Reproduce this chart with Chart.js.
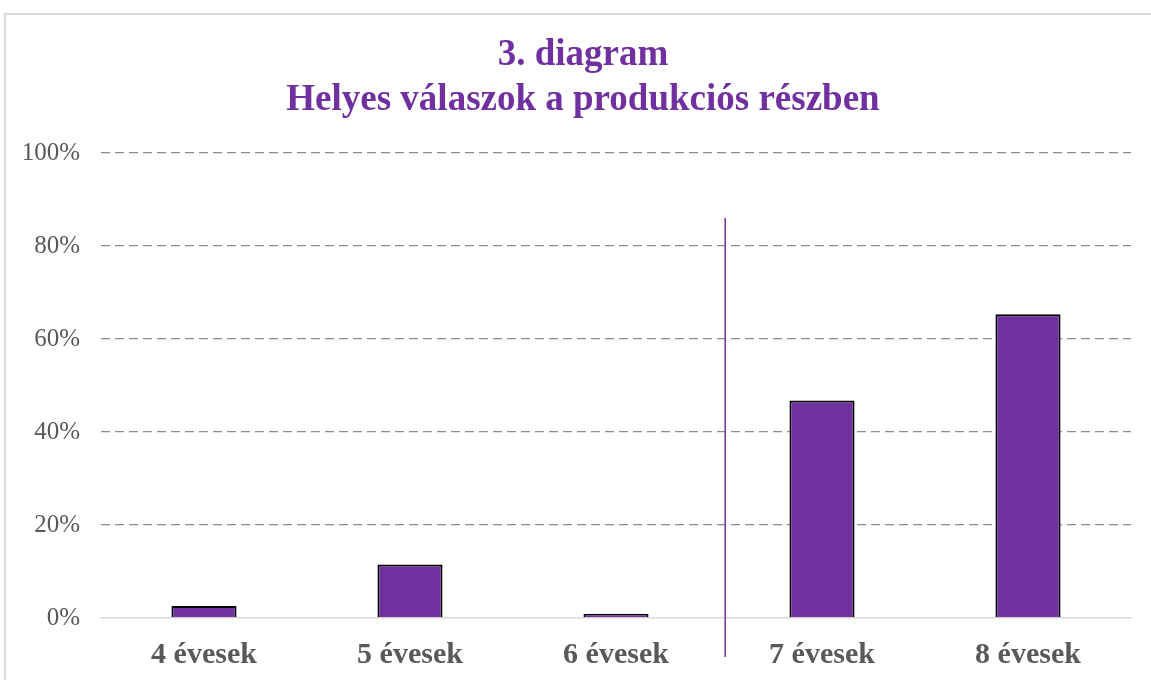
<!DOCTYPE html>
<html>
<head>
<meta charset="utf-8">
<script src="https://cdn.jsdelivr.net/npm/chart.js@4.4.1/dist/chart.umd.min.js"></script>
<style>
  html, body { margin: 0; padding: 0; background: #ffffff; }
  #wrap { position: relative; width: 1151px; height: 680px; }
</style>
</head>
<body>
<div id="wrap"><canvas id="c" width="1151" height="680"></canvas></div>
<script>
const categories = ["4 évesek", "5 évesek", "6 évesek", "7 évesek", "8 évesek"];
const correctShare = [2.6, 11.5, 0.9, 46.8, 65.3];
const yTicks = [0, 20, 40, 60, 80, 100];
const titleLines = ["3. diagram", "Helyes válaszok a produkciós részben"];
const dividerAfterIndex = 2;

const purple = "#7030A0";
const serif = "'Liberation Serif', 'Times New Roman', serif";

const framePlugin = {
  id: "frame",
  beforeDraw(chart) {
    const ctx = chart.ctx;
    ctx.save();
    ctx.fillStyle = "#ffffff";
    ctx.fillRect(0, 0, chart.width, chart.height);
    ctx.strokeStyle = "#d9d9d9";
    ctx.lineWidth = 2;
    ctx.strokeRect(5, 14, chart.width + 20, chart.height + 20);
    ctx.restore();
  }
};

const titlePlugin = {
  id: "twoLineTitle",
  afterDraw(chart) {
    const ctx = chart.ctx;
    ctx.save();
    ctx.fillStyle = purple;
    ctx.font = "bold 37px " + serif;
    ctx.textAlign = "center";
    ctx.textBaseline = "alphabetic";
    const cx = 583;
    titleLines.forEach((line, i) => ctx.fillText(line, cx, 65 + i * 45));
    ctx.restore();
  }
};

const dividerPlugin = {
  id: "divider",
  afterDatasetsDraw(chart) {
    const x = chart.scales.x, y = chart.scales.y;
    const px = x.getPixelForValue(dividerAfterIndex + 0.53);
    const top = y.getPixelForValue(86);
    const bottom = y.getPixelForValue(-8.4);
    const ctx = chart.ctx;
    ctx.save();
    ctx.strokeStyle = purple;
    ctx.lineWidth = 1.5;
    ctx.beginPath();
    ctx.moveTo(px, top);
    ctx.lineTo(px, bottom);
    ctx.stroke();
    ctx.restore();
  }
};

new Chart(document.getElementById("c"), {
  type: "bar",
  data: {
    labels: categories,
    datasets: [{
      data: correctShare,
      backgroundColor: purple,
      borderColor: "#000000",
      borderWidth: 2,
      borderSkipped: "bottom",
      categoryPercentage: 1.0,
      barPercentage: 0.316
    }]
  },
  options: {
    responsive: false,
    animation: false,
    devicePixelRatio: 1,
    layout: { padding: { left: 0, right: 20, top: 153, bottom: 0 } },
    plugins: {
      legend: { display: false },
      tooltip: { enabled: false },
      title: { display: false }
    },
    scales: {
      x: {
        grid: { display: false, drawTicks: false },
        border: { display: true, color: "#d9d9d9", width: 1.5 },
        ticks: {
          color: "#595959",
          font: { family: serif, size: 30, weight: "bold" },
          padding: 19
        },
        afterFit(s) { s.height = 62; }
      },
      y: {
        min: 0,
        max: 100,
        afterBuildTicks(s) { s.ticks = yTicks.map(v => ({ value: v })); },
        afterFit(s) { s.width = 101; },
        grid: {
          drawTicks: false,
          color: (c) => c.tick && c.tick.value === 0 ? "rgba(0,0,0,0)" : "#8c8c8c",
          lineWidth: 1.3
        },
        border: { display: false, dash: [9, 5] },
        ticks: {
          color: "#595959",
          font: { family: serif, size: 25 },
          padding: 21,
          callback: (v) => v + "%"
        }
      }
    }
  },
  plugins: [framePlugin, titlePlugin, dividerPlugin]
});
</script>
</body>
</html>
